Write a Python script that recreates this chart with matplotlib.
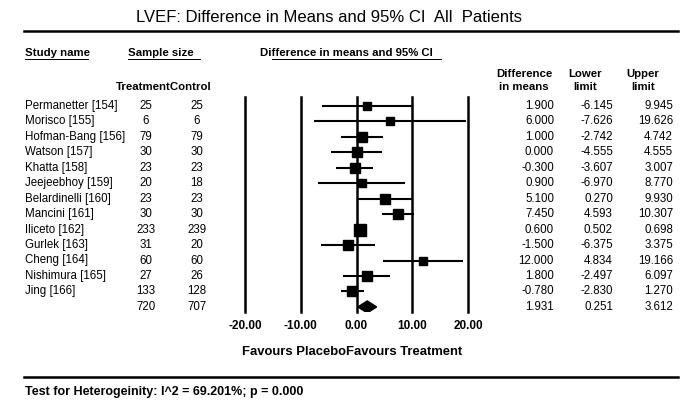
import matplotlib
matplotlib.use("Agg")
import matplotlib.pyplot as plt
from matplotlib.lines import Line2D
from matplotlib import transforms

plt.rcParams['font.family'] = ['Liberation Sans', 'DejaVu Sans']

studies = ["Permanetter [154]", "Morisco [155]", "Hofman-Bang [156]", "Watson [157]",
           "Khatta [158]", "Jeejeebhoy [159]", "Belardinelli [160]", "Mancini [161]",
           "Iliceto [162]", "Gurlek [163]", "Cheng [164]", "Nishimura [165]", "Jing [166]"]
n_treat = [25, 6, 79, 30, 23, 20, 23, 30, 233, 31, 60, 27, 133]
n_ctrl = [25, 6, 79, 30, 23, 18, 23, 30, 239, 20, 60, 26, 128]
total_treat = 720
total_ctrl = 707
diff = [1.900, 6.000, 1.000, 0.000, -0.300, 0.900, 5.100, 7.450, 0.600, -1.500, 12.000, 1.800, -0.780]
lower = [-6.145, -7.626, -2.742, -4.555, -3.607, -6.970, 0.270, 4.593, 0.502, -6.375, 4.834, -2.497, -2.830]
upper = [9.945, 19.626, 4.742, 4.555, 3.007, 8.770, 9.930, 10.307, 0.698, 3.375, 19.166, 6.097, 1.270]
weights = [3.5, 3.5, 8.6, 5.8, 7.1, 3.5, 5.8, 8.6, 12.0, 5.8, 3.5, 5.8, 8.6]
summary_diff = 1.931
summary_lower = 0.251
summary_upper = 3.612
ticks = [-20, -10, 0, 10, 20]
tick_labels = ["-20.00", "-10.00", "0.00", "10.00", "20.00"]

W, H = 700, 413
fig = plt.figure(figsize=(7, 4.13), dpi=100)

def fx(x):
    return x / W

def fy(y):
    return 1 - y / H

# forest axes
row0_px, row_step = 105.7, 15.48
top_px, bot_px = 97, 312
left_px, right_px = 245, 468
ax = fig.add_axes([fx(left_px), fy(bot_px), (right_px - left_px) / W, (bot_px - top_px) / H])
ax.set_xlim(-20, 20)
ax.set_ylim((bot_px - row0_px) / row_step, (top_px - row0_px) / row_step)
for s in ax.spines.values():
    s.set_visible(False)
ax.set_yticks([])
ax.set_xticks(ticks)
ax.set_xticklabels(tick_labels, fontsize=8.5, fontweight='bold')
ax.tick_params(axis='x', length=0, pad=6)
for t in ticks:
    ax.axvline(t, color='black', lw=1.8, zorder=1, clip_on=False)

rows = list(range(len(studies)))
for i in rows:
    ax.plot([lower[i], upper[i]], [i, i], color='black', lw=1.5, zorder=2,
            solid_capstyle='butt', clip_on=False)
    size_px = 3.75 * weights[i] ** 0.5
    ax.plot(diff[i], i, marker='s', color='black', markersize=size_px * 0.72,
            zorder=3, linestyle='none', clip_on=False)

ys = len(studies)
h = 6 / row_step
ax.fill([summary_lower, summary_diff, summary_upper, summary_diff],
        [ys, ys + h, ys, ys - h], color='black', zorder=3)

# text columns
blend = transforms.blended_transform_factory(fig.transFigure, ax.transData)
fs = 8.3
for i in rows:
    ax.text(fx(25), i, studies[i], transform=blend, fontsize=fs, va='center', ha='left')
    ax.text(fx(146), i, str(n_treat[i]), transform=blend, fontsize=fs, va='center', ha='center')
    ax.text(fx(197), i, str(n_ctrl[i]), transform=blend, fontsize=fs, va='center', ha='center')
    ax.text(fx(554), i, f"{diff[i]:.3f}", transform=blend, fontsize=fs, va='center', ha='right')
    ax.text(fx(613), i, f"{lower[i]:.3f}", transform=blend, fontsize=fs, va='center', ha='right')
    ax.text(fx(673), i, f"{upper[i]:.3f}", transform=blend, fontsize=fs, va='center', ha='right')

ax.text(fx(146), ys, str(total_treat), transform=blend, fontsize=fs, va='center', ha='center')
ax.text(fx(197), ys, str(total_ctrl), transform=blend, fontsize=fs, va='center', ha='center')
ax.text(fx(554), ys, f"{summary_diff:.3f}", transform=blend, fontsize=fs, va='center', ha='right')
ax.text(fx(613), ys, f"{summary_lower:.3f}", transform=blend, fontsize=fs, va='center', ha='right')
ax.text(fx(673), ys, f"{summary_upper:.3f}", transform=blend, fontsize=fs, va='center', ha='right')

# title and rules
fig.text(fx(329), fy(17), "LVEF: Difference in Means and 95% CI  All  Patients",
         fontsize=12, ha='center', va='center')
fig.add_artist(Line2D([fx(24), fx(678)], [fy(31), fy(31)], color='black', lw=1.8,
                      transform=fig.transFigure))
fig.add_artist(Line2D([fx(24), fx(678)], [fy(377), fy(377)], color='black', lw=1.8,
                      transform=fig.transFigure))

# headers
hfs = 8.2
fig.text(fx(25), fy(53.5), "Study name", fontsize=hfs, fontweight='bold', ha='left', va='center')
fig.add_artist(Line2D([fx(25), fx(88)], [fy(58.5), fy(58.5)], color='black', lw=0.7,
                      transform=fig.transFigure))
fig.text(fx(128), fy(53.5), "Sample size", fontsize=hfs, fontweight='bold', ha='left', va='center')
fig.add_artist(Line2D([fx(128), fx(200)], [fy(58.5), fy(58.5)], color='black', lw=0.7,
                      transform=fig.transFigure))
fig.text(fx(260), fy(53.5), "Difference in means and 95% CI", fontsize=hfs, fontweight='bold',
         ha='left', va='center')
fig.add_artist(Line2D([fx(272), fx(441)], [fy(58.5), fy(58.5)], color='black', lw=0.7,
                      transform=fig.transFigure))
fig.text(fx(116), fy(87), "TreatmentControl", fontsize=hfs, fontweight='bold', ha='left', va='center')
for xc, top_line, bottom_line in [(524, "Difference", "in means"),
                                  (585, "Lower", "limit"),
                                  (643, "Upper", "limit")]:
    fig.text(fx(xc), fy(74), top_line, fontsize=hfs, fontweight='bold', ha='center', va='center')
    fig.text(fx(xc), fy(87), bottom_line, fontsize=hfs, fontweight='bold', ha='center', va='center')

fig.text(fx(242), fy(352), "Favours PlaceboFavours Treatment", fontsize=9.4, fontweight='bold',
         ha='left', va='center')
fig.text(fx(25), fy(392), "Test for Heterogeinity: I^2 = 69.201%; p = 0.000", fontsize=9,
         fontweight='bold', ha='left', va='center')

fig.savefig("out.png", dpi=100)
